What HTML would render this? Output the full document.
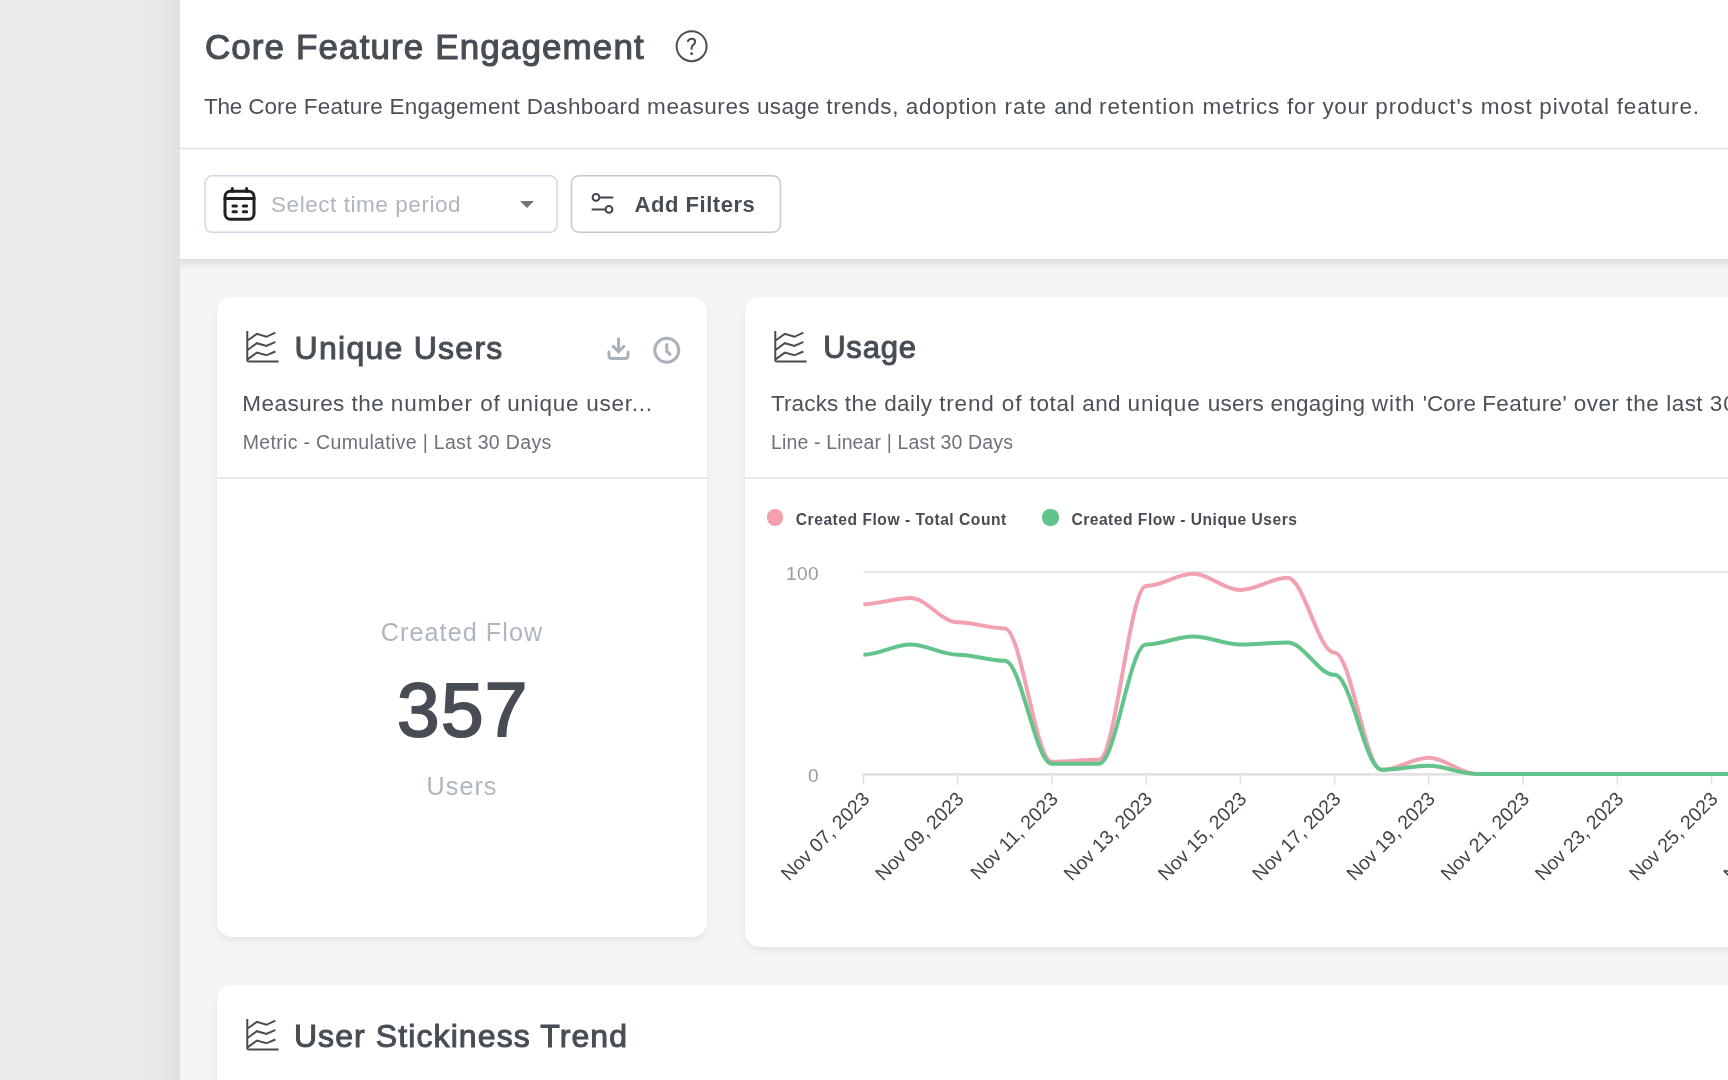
<!DOCTYPE html>
<html lang="en">
<head>
<meta charset="utf-8">
<title>Core Feature Engagement</title>
<style>
*{box-sizing:border-box;margin:0;padding:0}
html,body{width:1728px;height:1080px;overflow:hidden;background:#f5f5f5;font-family:"Liberation Sans",sans-serif;color:#474d55}
.abs{position:absolute;white-space:nowrap}
#sidebar{position:absolute;left:0;top:0;width:180px;height:1080px;background:linear-gradient(90deg,#eaeaec 0,#eaeaec 140px,#e7e7e9 160px,#e1e1e3 180px)}
#main{position:absolute;left:180px;top:0;width:1548px;height:1080px;background:#f5f5f5;overflow:hidden}
#page{position:absolute;left:-180px;top:0;width:1728px;height:1080px;will-change:transform}
#header{position:absolute;left:140px;top:0;width:1628px;height:258.5px;background:#fff;box-shadow:0 3px 10px rgba(0,0,0,.13)}
#hdiv{position:absolute;left:180px;top:147.7px;width:1548px;height:1.4px;background:#dde2e5}
.card{position:absolute;background:#fff;border-radius:15px;box-shadow:0 4px 9px -1px rgba(0,0,0,.08)}
.cdiv{position:absolute;height:1.8px;background:#e1e7e9}
</style>
</head>
<body>
<div id="sidebar"></div>
<div id="main"><div id="page">
<div class="card" id="c1" style="left:217px;top:297px;width:490px;height:640.3px"></div>
<div class="card" id="c2" style="left:745.2px;top:297px;width:1100px;height:650px"></div>
<div class="card" id="c3" style="left:217px;top:985.4px;width:1700px;height:300px"></div>
<div id="header"></div>
<div class="abs" id="ptitle" style="left:204.90px;top:29.17px;font-size:35px;line-height:35px;color:#474d55;-webkit-text-stroke:1.1px #474d55;letter-spacing:1.109px;">Core Feature Engagement</div>
<svg class="abs" style="left:674px;top:29px" width="36" height="36" viewBox="0 0 36 36" fill="none" stroke="#4a5058" stroke-width="2" stroke-linecap="round" stroke-linejoin="round"><circle cx="17.6" cy="17.2" r="15"/><path d="M13.8 12.2C14.7 10.4 16.1 9.7 17.7 9.7C19.8 9.7 21.2 11 21.2 12.8C21.2 15.8 17.6 15.9 17.6 18.6V20"/><circle cx="17.6" cy="24.8" r="1.45" fill="#4a5058" stroke="none"/></svg>
<div class="abs" id="pdesc" style="left:0;top:96.15px;font-size:22.5px;line-height:22.5px;color:#4b5159"><span style="position:absolute;left:203.91px;top:0;letter-spacing:-0.188px">The</span><span style="position:absolute;left:248.18px;top:0;letter-spacing:0.092px">Core</span><span style="position:absolute;left:303.65px;top:0;letter-spacing:0.251px">Feature</span><span style="position:absolute;left:389.45px;top:0;letter-spacing:0.305px">Engagement</span><span style="position:absolute;left:526.65px;top:0;letter-spacing:0.414px">Dashboard</span><span style="position:absolute;left:647.12px;top:0;letter-spacing:0.545px">measures</span><span style="position:absolute;left:757.06px;top:0;letter-spacing:0.291px">usage</span><span style="position:absolute;left:826.36px;top:0;letter-spacing:0.544px">trends,</span><span style="position:absolute;left:905.75px;top:0;letter-spacing:0.686px">adoption</span><span style="position:absolute;left:1004.51px;top:0;letter-spacing:0.944px">rate</span><span style="position:absolute;left:1054.26px;top:0;letter-spacing:0.242px">and</span><span style="position:absolute;left:1099.02px;top:0;letter-spacing:0.959px">retention</span><span style="position:absolute;left:1202.42px;top:0;letter-spacing:0.740px">metrics</span><span style="position:absolute;left:1287.09px;top:0;letter-spacing:0.740px">for</span><span style="position:absolute;left:1322.55px;top:0;letter-spacing:0.537px">your</span><span style="position:absolute;left:1375.26px;top:0;letter-spacing:0.871px">product's</span><span style="position:absolute;left:1480.82px;top:0;letter-spacing:0.707px">most</span><span style="position:absolute;left:1539.36px;top:0;letter-spacing:0.767px">pivotal</span><span style="position:absolute;left:1616.78px;top:0;letter-spacing:0.852px">feature.</span></div>
<svg class="abs" style="left:200px;top:170px" width="600" height="70" viewBox="200 170 600 70" fill="#fff" stroke-width="1.5"><rect x="205.05" y="175.8" width="351.9" height="56.5" rx="7.2" stroke="#d4d6ea"/><rect x="571.4" y="175.8" width="209" height="56.5" rx="7.6" stroke="#c8c8cb"/></svg>
<svg class="abs" style="left:220px;top:184px" width="40" height="40" viewBox="0 0 40 40" fill="none" stroke="#222" stroke-width="3" stroke-linecap="round">
<rect x="5" y="7.2" width="29" height="28" rx="5.5"/><path d="M5 14.6H34M12.3 4.5V7.5M26.6 4.5V7.5M13 22.1h3.4M23.3 22.1h3.4M13 27.7h3.4M23.3 27.7h3.4"/></svg>
<div class="abs" id="psel" style="left:271.00px;top:193.95px;font-size:22.5px;line-height:22.5px;color:#b0b6be;letter-spacing:0.559px;">Select time period</div>
<div class="abs" style="left:519.5px;top:201.3px;width:0;height:0;border-left:7.9px solid transparent;border-right:7.9px solid transparent;border-top:7.5px solid #757575"></div>
<svg class="abs" style="left:588px;top:190px" width="30" height="28" viewBox="0 0 30 28" fill="none" stroke="#3f454d" stroke-width="2" stroke-linecap="round">
<circle cx="8" cy="7.4" r="3.4"/><path d="M12.4 7.4H24.4M4.5 19.4H16.6"/><circle cx="21" cy="19.4" r="3.4"/></svg>
<div class="abs" id="pfil" style="left:634.60px;top:193.88px;font-size:22px;line-height:22px;color:#474d55;font-weight:bold;letter-spacing:0.530px;">Add Filters</div>
<svg class="abs" style="left:245.6px;top:330.7px" width="34" height="33" viewBox="0 0 34 33"><path d="M1.3 0.6 V29.2 Q1.3 30.6 2.7 30.6 H31.6 M1.3 9.7 L10.8 2.9 L20.4 5.8 L28.4 2.1 M1.3 19.2 L10.8 12.2 L20.4 15.0 L28.4 11.4 M1.3 28.5 L10.8 21.6 L20.4 24.3 L28.4 20.9" fill="none" stroke="#474d55" stroke-width="2" stroke-linecap="square" stroke-linejoin="miter"/></svg>
<div class="abs" id="c1t" style="left:294.60px;top:331.91px;font-size:32px;line-height:32px;color:#474d55;-webkit-text-stroke:1.0px #474d55;letter-spacing:1.260px;">Unique Users</div>
<svg class="abs" style="left:604px;top:334px" width="30" height="30" viewBox="0 0 30 30" fill="none" stroke="#aab1bb" stroke-width="3" stroke-linecap="round" stroke-linejoin="round">
<path d="M14.5 4.8V18M9.2 12.4L14.5 17.8L19.8 12.4M5 18V21.6Q5 24.6 8 24.6H21Q24 24.6 24 21.6V18"/></svg>
<svg class="abs" style="left:651px;top:334px" width="32" height="32" viewBox="0 0 32 32" fill="none" stroke="#aab1bb" stroke-width="3" stroke-linecap="round" stroke-linejoin="round">
<circle cx="15.75" cy="16.25" r="12"/><path d="M15.75 10.5V17.2L19 20.3"/></svg>
<div class="abs" id="c1d" style="left:0;top:393.25px;font-size:22.5px;line-height:22.5px;color:#4b5159"><span style="position:absolute;left:242.35px;top:0;letter-spacing:0.463px">Measures</span><span style="position:absolute;left:351.56px;top:0;letter-spacing:0.431px">the</span><span style="position:absolute;left:390.81px;top:0;letter-spacing:1.000px">number</span><span style="position:absolute;left:480.36px;top:0;letter-spacing:0.630px">of</span><span style="position:absolute;left:507.26px;top:0;letter-spacing:0.755px">unique</span><span style="position:absolute;left:586.36px;top:0;letter-spacing:0.733px">user...</span></div>
<div class="abs" id="c1m" style="left:242.70px;top:433.39px;font-size:19.5px;line-height:19.5px;color:#6c727a;letter-spacing:0.329px;">Metric - Cumulative | Last 30 Days</div>
<div class="abs" id="m1" style="left:162.00px;width:600px;text-align:center;top:620.27px;font-size:25.2px;line-height:25.2px;color:#aeb6c0;letter-spacing:1.062px;">Created Flow</div>
<div class="abs" id="m2" style="left:162.90px;width:600px;text-align:center;top:672.04px;font-size:76.5px;line-height:76.5px;color:#484d55;-webkit-text-stroke:2.0px #484d55;letter-spacing:1.350px;">357</div>
<div class="abs" id="m3" style="left:162.00px;width:600px;text-align:center;top:774.17px;font-size:25.2px;line-height:25.2px;color:#aeb6c0;letter-spacing:1.025px;">Users</div>
<svg class="abs" style="left:774.0px;top:330.7px" width="34" height="33" viewBox="0 0 34 33"><path d="M1.3 0.6 V29.2 Q1.3 30.6 2.7 30.6 H31.6 M1.3 9.7 L10.8 2.9 L20.4 5.8 L28.4 2.1 M1.3 19.2 L10.8 12.2 L20.4 15.0 L28.4 11.4 M1.3 28.5 L10.8 21.6 L20.4 24.3 L28.4 20.9" fill="none" stroke="#474d55" stroke-width="2" stroke-linecap="square" stroke-linejoin="miter"/></svg>
<div class="abs" id="c2t" style="left:823.20px;top:332.06px;font-size:31px;line-height:31px;color:#474d55;-webkit-text-stroke:1.0px #474d55;letter-spacing:0.800px;">Usage</div>
<div class="abs" id="c2d" style="left:0;top:393.15px;font-size:22.5px;line-height:22.5px;color:#4b5159"><span style="position:absolute;left:770.90px;top:0;letter-spacing:0.149px">Tracks</span><span style="position:absolute;left:844.86px;top:0;letter-spacing:0.441px">the</span><span style="position:absolute;left:884.15px;top:0;letter-spacing:0.414px">daily</span><span style="position:absolute;left:939.16px;top:0;letter-spacing:0.859px">trend</span><span style="position:absolute;left:1001.85px;top:0;letter-spacing:0.864px">of</span><span style="position:absolute;left:1029.46px;top:0;letter-spacing:0.686px">total</span><span style="position:absolute;left:1082.36px;top:0;letter-spacing:0.353px">and</span><span style="position:absolute;left:1127.56px;top:0;letter-spacing:0.912px">unique</span><span style="position:absolute;left:1207.76px;top:0;letter-spacing:0.237px">users</span><span style="position:absolute;left:1270.46px;top:0;letter-spacing:0.278px">engaging</span><span style="position:absolute;left:1371.80px;top:0;letter-spacing:0.942px">with</span><span style="position:absolute;left:1422.78px;top:0;letter-spacing:0.027px">'Core</span><span style="position:absolute;left:1482.25px;top:0;letter-spacing:0.379px">Feature'</span><span style="position:absolute;left:1573.76px;top:0;letter-spacing:0.517px">over</span><span style="position:absolute;left:1626.36px;top:0;letter-spacing:0.600px">the</span><span style="position:absolute;left:1666.29px;top:0;letter-spacing:0.438px">last</span><span style="position:absolute;left:1709.74px;top:0;letter-spacing:1.011px">30</span><span style="position:absolute;left:1744.06px;top:0;letter-spacing:-1.446px">days.</span></div>
<div class="abs" id="c2m" style="left:771.00px;top:433.09px;font-size:19.5px;line-height:19.5px;color:#6c727a;letter-spacing:0.140px;">Line - Linear | Last 30 Days</div>
<div class="abs" style="left:766.6px;top:509.4px;width:16.2px;height:16.2px;border-radius:50%;background:#f29fae"></div>
<div class="abs" id="lg1" style="left:795.80px;top:511.99px;font-size:15.6px;line-height:15.6px;color:#474d55;font-weight:bold;letter-spacing:0.528px;">Created Flow - Total Count</div>
<div class="abs" style="left:1042.4px;top:509.4px;width:16.2px;height:16.2px;border-radius:50%;background:#5fc38a"></div>
<div class="abs" id="lg2" style="left:1071.40px;top:511.99px;font-size:15.6px;line-height:15.6px;color:#474d55;font-weight:bold;letter-spacing:0.508px;">Created Flow - Unique Users</div>
<svg class="abs" id="chart" style="left:0;top:0" width="1728" height="1080" viewBox="0 0 1728 1080">
<path d="M180 148.4H1728" stroke="#dde2e5" stroke-width="1.5"/>
<path d="M217 477.85H707.1M745.2 477.85H1728" stroke="#e0e6e9" stroke-width="1.8"/>
<line x1="863.4" y1="572" x2="1800" y2="572" stroke="#e0e0e0" stroke-width="1.7"/>
<line x1="862.6" y1="774.4" x2="1800" y2="774.4" stroke="#e2e2e2" stroke-width="2.6"/>
<line x1="863.40" y1="774" x2="863.40" y2="784.8" stroke="#e2e2e2" stroke-width="1.6"/>
<line x1="957.64" y1="774" x2="957.64" y2="784.8" stroke="#e2e2e2" stroke-width="1.6"/>
<line x1="1051.88" y1="774" x2="1051.88" y2="784.8" stroke="#e2e2e2" stroke-width="1.6"/>
<line x1="1146.12" y1="774" x2="1146.12" y2="784.8" stroke="#e2e2e2" stroke-width="1.6"/>
<line x1="1240.36" y1="774" x2="1240.36" y2="784.8" stroke="#e2e2e2" stroke-width="1.6"/>
<line x1="1334.60" y1="774" x2="1334.60" y2="784.8" stroke="#e2e2e2" stroke-width="1.6"/>
<line x1="1428.84" y1="774" x2="1428.84" y2="784.8" stroke="#e2e2e2" stroke-width="1.6"/>
<line x1="1523.08" y1="774" x2="1523.08" y2="784.8" stroke="#e2e2e2" stroke-width="1.6"/>
<line x1="1617.32" y1="774" x2="1617.32" y2="784.8" stroke="#e2e2e2" stroke-width="1.6"/>
<line x1="1711.56" y1="774" x2="1711.56" y2="784.8" stroke="#e2e2e2" stroke-width="1.6"/>
<line x1="1805.80" y1="774" x2="1805.80" y2="784.8" stroke="#e2e2e2" stroke-width="1.6"/>
<path d="M863.40 604.14 C879.89 604.14 894.03 598.07 910.52 598.07 C927.01 598.07 941.15 622.33 957.64 622.33 C974.13 622.33 988.27 628.39 1004.76 628.39 C1021.25 628.39 1035.39 761.77 1051.88 761.77 C1068.37 761.77 1082.51 759.75 1099.00 759.75 C1115.49 759.75 1129.63 585.95 1146.12 585.95 C1162.61 585.95 1176.75 573.82 1193.24 573.82 C1209.73 573.82 1223.87 589.99 1240.36 589.99 C1256.85 589.99 1270.99 577.86 1287.48 577.86 C1303.97 577.86 1318.11 652.64 1334.60 652.64 C1351.09 652.64 1365.23 769.86 1381.72 769.86 C1398.21 769.86 1412.35 757.73 1428.84 757.73 C1445.33 757.73 1459.47 773.90 1475.96 773.90 C1492.45 773.90 1506.59 773.90 1523.08 773.90 C1539.57 773.90 1553.71 773.90 1570.20 773.90 C1586.69 773.90 1600.83 773.90 1617.32 773.90 C1633.81 773.90 1647.95 773.90 1664.44 773.90 C1680.93 773.90 1695.07 773.90 1711.56 773.90 C1728.05 773.90 1742.19 773.90 1758.68 773.90" fill="none" stroke="#f2a1b1" stroke-width="4" stroke-linecap="butt" stroke-linejoin="round"/>
<path d="M863.40 654.66 C879.89 654.66 894.03 644.56 910.52 644.56 C927.01 644.56 941.15 654.66 957.64 654.66 C974.13 654.66 988.27 660.72 1004.76 660.72 C1021.25 660.72 1035.39 763.79 1051.88 763.79 C1068.37 763.79 1082.51 763.79 1099.00 763.79 C1115.49 763.79 1129.63 644.56 1146.12 644.56 C1162.61 644.56 1176.75 636.47 1193.24 636.47 C1209.73 636.47 1223.87 644.56 1240.36 644.56 C1256.85 644.56 1270.99 642.53 1287.48 642.53 C1303.97 642.53 1318.11 674.87 1334.60 674.87 C1351.09 674.87 1365.23 769.86 1381.72 769.86 C1398.21 769.86 1412.35 765.82 1428.84 765.82 C1445.33 765.82 1459.47 773.90 1475.96 773.90 C1492.45 773.90 1506.59 773.90 1523.08 773.90 C1539.57 773.90 1553.71 773.90 1570.20 773.90 C1586.69 773.90 1600.83 773.90 1617.32 773.90 C1633.81 773.90 1647.95 773.90 1664.44 773.90 C1680.93 773.90 1695.07 773.90 1711.56 773.90 C1728.05 773.90 1742.19 773.90 1758.68 773.90" fill="none" stroke="#62c38b" stroke-width="4" stroke-linecap="butt" stroke-linejoin="round"/>
<text transform="translate(870.60 800.1) rotate(-45)" text-anchor="end" font-family="Liberation Sans, sans-serif" font-size="19.4" fill="#3f4449">Nov 07, 2023</text>
<text transform="translate(964.84 800.1) rotate(-45)" text-anchor="end" font-family="Liberation Sans, sans-serif" font-size="19.4" fill="#3f4449">Nov 09, 2023</text>
<text transform="translate(1059.08 800.1) rotate(-45)" text-anchor="end" font-family="Liberation Sans, sans-serif" font-size="19.4" fill="#3f4449">Nov 11, 2023</text>
<text transform="translate(1153.32 800.1) rotate(-45)" text-anchor="end" font-family="Liberation Sans, sans-serif" font-size="19.4" fill="#3f4449">Nov 13, 2023</text>
<text transform="translate(1247.56 800.1) rotate(-45)" text-anchor="end" font-family="Liberation Sans, sans-serif" font-size="19.4" fill="#3f4449">Nov 15, 2023</text>
<text transform="translate(1341.80 800.1) rotate(-45)" text-anchor="end" font-family="Liberation Sans, sans-serif" font-size="19.4" fill="#3f4449">Nov 17, 2023</text>
<text transform="translate(1436.04 800.1) rotate(-45)" text-anchor="end" font-family="Liberation Sans, sans-serif" font-size="19.4" fill="#3f4449">Nov 19, 2023</text>
<text transform="translate(1530.28 800.1) rotate(-45)" text-anchor="end" font-family="Liberation Sans, sans-serif" font-size="19.4" fill="#3f4449">Nov 21, 2023</text>
<text transform="translate(1624.52 800.1) rotate(-45)" text-anchor="end" font-family="Liberation Sans, sans-serif" font-size="19.4" fill="#3f4449">Nov 23, 2023</text>
<text transform="translate(1718.76 800.1) rotate(-45)" text-anchor="end" font-family="Liberation Sans, sans-serif" font-size="19.4" fill="#3f4449">Nov 25, 2023</text>
<text transform="translate(1813.00 800.1) rotate(-45)" text-anchor="end" font-family="Liberation Sans, sans-serif" font-size="19.4" fill="#3f4449">Nov 27, 2023</text>
<text x="819.2" y="580" text-anchor="end" font-family="Liberation Sans, sans-serif" font-size="19" letter-spacing="0.5" fill="#9b9b9b">100</text>
<text x="819.2" y="782.4" text-anchor="end" font-family="Liberation Sans, sans-serif" font-size="19" letter-spacing="0.5" fill="#9b9b9b">0</text>
</svg>
<svg class="abs" style="left:245.6px;top:1019.2px" width="34" height="33" viewBox="0 0 34 33"><path d="M1.3 0.6 V29.2 Q1.3 30.6 2.7 30.6 H31.6 M1.3 9.7 L10.8 2.9 L20.4 5.8 L28.4 2.1 M1.3 19.2 L10.8 12.2 L20.4 15.0 L28.4 11.4 M1.3 28.5 L10.8 21.6 L20.4 24.3 L28.4 20.9" fill="none" stroke="#474d55" stroke-width="2" stroke-linecap="square" stroke-linejoin="miter"/></svg>
<div class="abs" id="c3t" style="left:293.90px;top:1020.21px;font-size:32px;line-height:32px;color:#474d55;-webkit-text-stroke:1.0px #474d55;letter-spacing:1.095px;">User Stickiness Trend</div>
</div></div>
</body>
</html>
